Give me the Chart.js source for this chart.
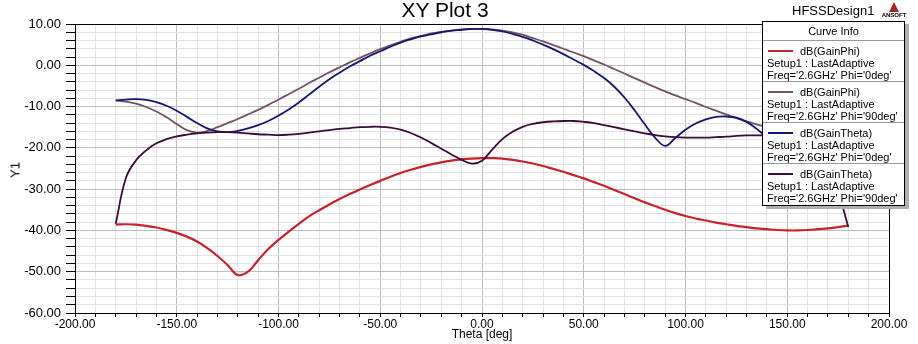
<!DOCTYPE html>
<html>
<head>
<meta charset="utf-8">
<script src="https://cdn.jsdelivr.net/npm/chart.js@4"></script>
<style>
  body { margin: 0; background: #fff; font-family: "Liberation Sans", Arial, sans-serif; }
  #wrap { position: relative; width: 918px; height: 344px; overflow: hidden; }
  canvas { position: absolute; left: 0; top: 0; }
  .txt { position: absolute; color: #000; white-space: nowrap; }
  #title { left: 0; width: 890px; top: -1px; text-align: center; font-size: 21px; line-height: 22px; }
  #design { left: 792px; top: 3px; font-size: 13px; line-height: 15px; }
  #logo { left: 881px; top: 2px; width: 26px; text-align: center; }
  #logo .tri { width: 0; height: 0; margin: 0 auto; border-left: 5px solid transparent;
    border-right: 5px solid transparent; border-bottom: 10px solid #a02828; }
  #logo .name { font-size: 6px; font-weight: bold; line-height: 7px; }
  #ytitle { left: 15px; top: 170px; font-size: 13px; transform: translate(-50%, -50%) rotate(-90deg); }
  #xtitle { left: 482px; top: 327px; font-size: 12px; line-height: 14px; transform: translateX(-50%); }
  #legend { position: absolute; left: 762px; top: 21px; width: 141px; background: #fff;
    border: 1px solid #000; box-shadow: 4px 3px 0 #b0b0b0; font-size: 11px; line-height: 12px; }
  #legend .head { text-align: center; height: 18px; line-height: 19px; border-bottom: 1px solid #999; }
  #legend .entry { height: 41px; padding: 4px 0 0 4px; box-sizing: border-box; border-bottom: 1px solid #999; }
  #legend .entry:last-child { border-bottom: none; }
  #legend .row1 { position: relative; padding-left: 33px; }
  #legend .swatch { position: absolute; left: 1px; top: 5px; width: 25px; height: 2px; }
</style>
</head>
<body>
<div id="wrap">
  <canvas id="chart" width="918" height="344"></canvas>
  <div class="txt" id="title">XY Plot 3</div>
  <div class="txt" id="design">HFSSDesign1</div>
  <div class="txt" id="logo"><div class="tri"></div><div class="name">ANSOFT</div></div>
  <div class="txt" id="ytitle">Y1</div>
  <div class="txt" id="xtitle">Theta [deg]</div>
  <div id="legend"><div class="head">Curve Info</div></div>
</div>
<script>
// Theta sweep, 5 deg steps from -180 to 180
const THETA = [];
for (let t = -180; t <= 180; t += 5) THETA.push(t);

const GAIN_PHI_0 = [
  -38.6, -38.5, -38.6, -38.9, -39.3, -39.9, -40.6, -41.5, -42.7, -44.3,
  -46.2, -48.4, -50.8, -50.0, -47.2, -44.5, -42.3, -40.3, -38.4, -36.6,
  -35.1, -33.7, -32.4, -31.2, -30.1, -29.0, -28.0, -27.0, -26.1, -25.3,
  -24.6, -24.0, -23.5, -23.1, -22.8, -22.6, -22.5, -22.5, -22.6, -22.9,
  -23.3, -23.8, -24.4, -25.1, -25.8, -26.6, -27.4, -28.3, -29.2, -30.2,
  -31.2, -32.2, -33.2, -34.1, -35.0, -35.8, -36.5, -37.1, -37.6, -38.1,
  -38.5, -38.9, -39.2, -39.5, -39.7, -39.9, -40.0, -40.0, -39.9, -39.7,
  -39.5, -39.2, -38.8,
];
const GAIN_PHI_90 = [
  -8.5, -8.8, -9.3, -10.1, -11.2, -12.6, -14.2, -15.7, -16.3, -15.9,
  -15.0, -14.0, -13.0, -11.9, -10.8, -9.6, -8.3, -7.0, -5.7, -4.3,
  -3.0, -1.7, -0.5, 0.7, 1.8, 2.9, 3.9, 4.8, 5.7, 6.5,
  7.1, 7.7, 8.1, 8.4, 8.7, 8.8, 8.8, 8.7, 8.4, 8.0,
  7.4, 6.6, 5.8, 4.9, 4.0, 3.1, 2.2, 1.2, 0.2, -0.9,
  -2.0, -3.1, -4.2, -5.3, -6.3, -7.3, -8.2, -9.1, -10.1, -11.0,
  -11.9, -12.8, -13.6, -14.3, -15.0, -15.4, -15.4, -15.0, -14.1, -12.7,
  -11.0, -9.5, -8.5,
];
const GAIN_THETA_0 = [
  -8.5, -8.3, -8.2, -8.4, -8.9, -9.8, -11.0, -12.5, -14.0, -15.3,
  -16.0, -16.2, -15.9, -15.3, -14.5, -13.5, -12.2, -10.7, -9.0, -7.1,
  -5.2, -3.4, -1.8, -0.3, 1.0, 2.3, 3.4, 4.5, 5.5, 6.3,
  7.0, 7.5, 8.0, 8.4, 8.6, 8.8, 8.8, 8.6, 8.2, 7.6,
  6.9, 6.0, 5.0, 3.9, 2.7, 1.4, 0.1, -1.4, -3.1, -5.2,
  -7.8, -10.9, -14.3, -17.5, -19.5, -17.6, -15.6, -14.1, -13.1, -12.5,
  -12.4, -12.7, -13.7, -15.4, -17.3, -18.3, -18.4, -17.5, -15.6, -13.2,
  -11.0, -9.3, -8.5,
];
const GAIN_THETA_90 = [
  -38.4, -27.3, -23.0, -20.6, -18.9, -17.9, -17.2, -16.8, -16.5, -16.3,
  -16.2, -16.2, -16.3, -16.5, -16.7, -16.8, -16.9, -16.8, -16.6, -16.3,
  -16.0, -15.7, -15.4, -15.2, -15.0, -14.9, -14.9, -15.1, -15.6, -16.4,
  -17.5, -18.8, -20.2, -21.6, -22.9, -23.8, -23.1, -20.4, -17.9, -16.1,
  -14.9, -14.2, -13.8, -13.6, -13.5, -13.5, -13.7, -14.0, -14.5, -15.0,
  -15.5, -16.0, -16.5, -16.9, -17.2, -17.4, -17.5, -17.5, -17.5, -17.4,
  -17.3, -17.1, -17.0, -17.0, -17.0, -17.0, -17.0, -17.1, -17.3, -18.0,
  -20.0, -30.0, -39.2,
];

const CURVES = [
  { name: "dB(GainPhi)", phi: "0deg", color: "#c8222a", data: GAIN_PHI_0 },
  { name: "dB(GainPhi)", phi: "90deg", color: "#735266", data: GAIN_PHI_90 },
  { name: "dB(GainTheta)", phi: "0deg", color: "#16166e", data: GAIN_THETA_0 },
  { name: "dB(GainTheta)", phi: "90deg", color: "#3a0c3a", data: GAIN_THETA_90 },
];

// Curve Info box
const legend = document.getElementById("legend");
CURVES.forEach((c) => {
  const e = document.createElement("div");
  e.className = "entry";
  e.innerHTML =
    '<div class="row1"><span class="swatch" style="background:' + c.color + '"></span>' + c.name + "</div>" +
    "<div>Setup1 : LastAdaptive</div>" +
    "<div>Freq='2.6GHz' Phi='" + c.phi + "'</div>";
  legend.appendChild(e);
});

// black frame round the plot area
const frame = {
  id: "frame",
  afterDraw(chart) {
    const a = chart.chartArea, ctx = chart.ctx;
    ctx.save();
    ctx.strokeStyle = "#000";
    ctx.lineWidth = 1;
    ctx.strokeRect(Math.round(a.left) + 0.5, Math.round(a.top) + 0.5,
      Math.round(a.right - a.left), Math.round(a.bottom - a.top));
    ctx.restore();
  },
};

new Chart(document.getElementById("chart"), {
  type: "line",
  data: {
    datasets: CURVES.map((c, i) => ({
      label: c.name,
      data: THETA.map((t, k) => ({ x: t, y: c.data[k] })),
      borderColor: c.color,
      backgroundColor: c.color,
      borderWidth: i === 0 ? 2.2 : 1.8,
      pointRadius: 0,
      tension: 0.4,
      order: 4 - i,
    })),
  },
  options: {
    responsive: false,
    animation: false,
    devicePixelRatio: 1,
    layout: { padding: { top: 24, right: 29, left: 0, bottom: 0 } },
    plugins: { legend: { display: false }, tooltip: { enabled: false } },
    scales: {
      x: {
        type: "linear",
        min: -200,
        max: 200,
        afterFit: (s) => { s.height = 31; },
        border: { color: "#000" },
        grid: {
          color: (ctx) => (ctx.tick && ctx.tick.value % 50 === 0 ? "#bdbdbd" : "#e3e3e3"),
          tickColor: "#000",
          tickLength: 4,
        },
        ticks: {
          stepSize: 10,
          autoSkip: false,
          maxRotation: 0,
          padding: 0,
          color: "#000",
          font: { family: "Liberation Sans", size: 12 },
          callback: (v) => (v % 50 === 0 ? v.toFixed(2) : ""),
        },
      },
      y: {
        min: -60,
        max: 10,
        afterFit: (s) => { s.width = 75; },
        border: { color: "#000" },
        grid: {
          color: (ctx) => (ctx.tick && ctx.tick.value % 10 === 0 ? "#bdbdbd" : "#e3e3e3"),
          tickColor: "#000",
          tickLength: 9,
        },
        ticks: {
          stepSize: 2,
          autoSkip: false,
          padding: 5,
          color: "#000",
          font: { family: "Liberation Sans", size: 13 },
          callback: (v) => (v % 10 === 0 ? v.toFixed(2) : ""),
        },
      },
    },
  },
  plugins: [frame],
});
</script>
</body>
</html>
